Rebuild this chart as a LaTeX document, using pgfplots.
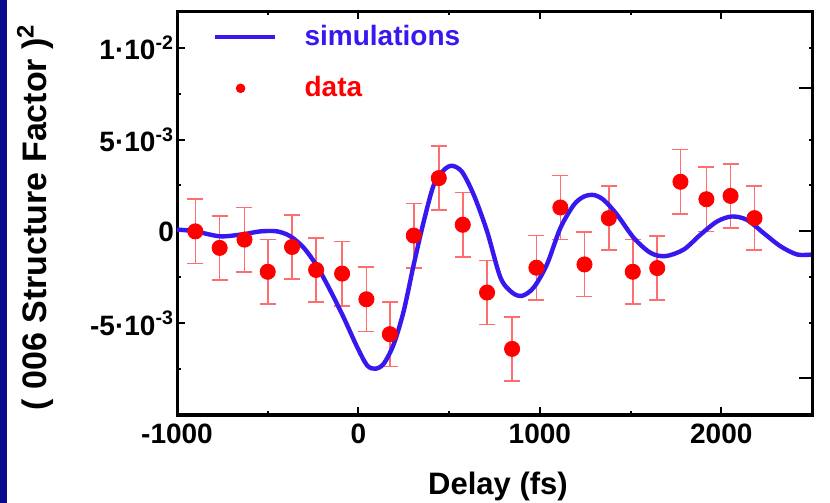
\documentclass[border=0pt]{standalone}
\usepackage{fontspec}
\setmainfont{Liberation Sans}
\usepackage{pgfplots}
\pgfplotsset{compat=1.18}

\definecolor{simblue}{RGB}{55,25,240}
\definecolor{datared}{RGB}{255,0,0}
\definecolor{errred}{RGB}{255,110,110}
\definecolor{slidenavy}{RGB}{10,10,140}

\begin{document}
\begin{tikzpicture}[x=1pt,y=1pt]
% page background and slide edge
\fill[white] (0,0) rectangle (415,251.5);
\fill[slidenavy] (0,0) rectangle (3.5,251.5);
\path[use as bounding box] (0,0) rectangle (415,251.5);

\begin{axis}[
  at={(88.5pt,44pt)}, anchor=south west,
  scale only axis, width=317.5pt, height=202pt,
  xmin=-1000, xmax=2500, ymin=-0.01, ymax=0.012,
  axis line style={line width=1.5pt},
  xtick={-1000,0,1000,2000},
  xticklabels={-1000,0,1000,2000},
  minor xtick={-500,500,1500,2500},
  ytick={-0.005,0,0.005,0.01},
  yticklabels={-5·10\textsuperscript{-3},0,5·10\textsuperscript{-3},1·10\textsuperscript{-2}},
  minor ytick={-0.0075,-0.0025,0.0025,0.0075},
  scaled y ticks=false,
  xtick pos=both, ytick pos=left,
  tick align=inside,
  major tick length=4pt, minor tick length=2pt,
  every tick/.style={black, line width=1pt},
  ticklabel style={font=\fontsize{14}{14}\selectfont\bfseries},
  yticklabel style={xshift=2pt},
  xticklabel style={yshift=-1pt},
  legend style={draw=none, fill=none, inner sep=0pt,
    at={(rel axis cs:0,1)}, anchor=north west,
    xshift=17.5pt, yshift=-6pt, row sep=12pt,
    font=\fontsize{14}{14}\selectfont\bfseries,
    nodes={inner sep=1pt}},
  legend cell align=left,
  reverse legend,
]

% measured structure factor change with error bars
\addplot[only marks, mark=*, mark size=3.8pt,
  mark options={fill=datared, draw=datared},
  error bars/.cd, y dir=both, y explicit,
  error bar style={errred, line width=0.8pt},
  error mark options={errred, rotate=90, mark size=4pt, line width=0.8pt},
  /pgfplots/legend image code/.code={
    \fill[datared, draw=none] (13pt,0pt) circle (2.4pt);
    \path[draw=none, fill=none] (0pt,0pt) -- (44pt,0pt);}]
table[x=x, y=y, y error=e] {
x      y         e
-899   0.00000   0.00175
-765  -0.00090   0.00175
-628  -0.00045   0.00175
-500  -0.00220   0.00175
-366  -0.00085   0.00175
-233  -0.00210   0.00175
-90   -0.00230   0.00175
44    -0.00370   0.00175
173   -0.00560   0.00175
305   -0.00023   0.00175
443    0.00290   0.00175
575    0.00036   0.00175
709   -0.00333   0.00175
847   -0.00640   0.00175
981   -0.00198   0.00175
1113   0.00130   0.00175
1246  -0.00180   0.00175
1380   0.00072   0.00175
1512  -0.00220   0.00175
1647  -0.00200   0.00175
1775   0.00270   0.00175
1918   0.00175   0.00175
2051   0.00193   0.00175
2183   0.00072   0.00175
};
\addlegendentry{\textcolor{datared}{data}}

% simulated curve
\addplot[simblue, line width=2.2pt, smooth,
  legend image code/.code={
    \draw[simblue, line width=2.2pt] (0pt,0pt) -- (30pt,0pt);
    \path[draw=none, fill=none] (0pt,0pt) -- (44pt,0pt);}]
table {
-1000  0.00010
-899   0.00000
-761  -0.00027
-632  -0.00015
-540   0.00000
-448   0.00000
-375  -0.00027
-301  -0.00090
-228  -0.00190
-154  -0.00324
-81   -0.00470
-7    -0.00630
48    -0.00730
94    -0.00748
140   -0.00720
195   -0.00613
250   -0.00432
305   -0.00180
360    0.00054
415    0.00252
470    0.00333
516    0.00357
571    0.00324
636    0.00198
709    0.00000
783   -0.00252
847   -0.00333
902   -0.00351
966   -0.00306
1039  -0.00180
1113   0.00018
1187   0.00144
1242   0.00189
1297   0.00198
1352   0.00171
1426   0.00090
1518  -0.00036
1610  -0.00117
1692  -0.00135
1793  -0.00099
1885  -0.00018
1977   0.00054
2058   0.00081
2141   0.00063
2233  -0.00009
2326  -0.00081
2418  -0.00126
2500  -0.00126
};
\addlegendentry{\textcolor{simblue}{simulations}}
\end{axis}

% secondary scale on the right edge (labels not shown)
\begin{axis}[
  at={(88.5pt,44pt)}, anchor=south west,
  scale only axis, width=317.5pt, height=202pt,
  xmin=-1000, xmax=2500, ymin=-0.01, ymax=0.012,
  axis x line=none, axis y line*=right,
  axis line style={line width=1.5pt},
  ytick={-0.008,0,0.0078}, yticklabels={},
  minor ytick={-0.005,-0.0025,0.0025,0.005,0.01},
  scaled y ticks=false,
  tick align=inside,
  major tick length=6.5pt, minor tick length=1.5pt,
  every tick/.style={black, line width=1pt},
]
\end{axis}

\node[rotate=90, font=\fontsize{17}{17}\selectfont\bfseries]
  at (17.5,143) {( 006 Structure Factor )\textsuperscript{2}};
\node[anchor=base, font=\fontsize{15.5}{15.5}\selectfont\bfseries]
  at (249,4) {Delay (fs)};
\end{tikzpicture}
\end{document}
